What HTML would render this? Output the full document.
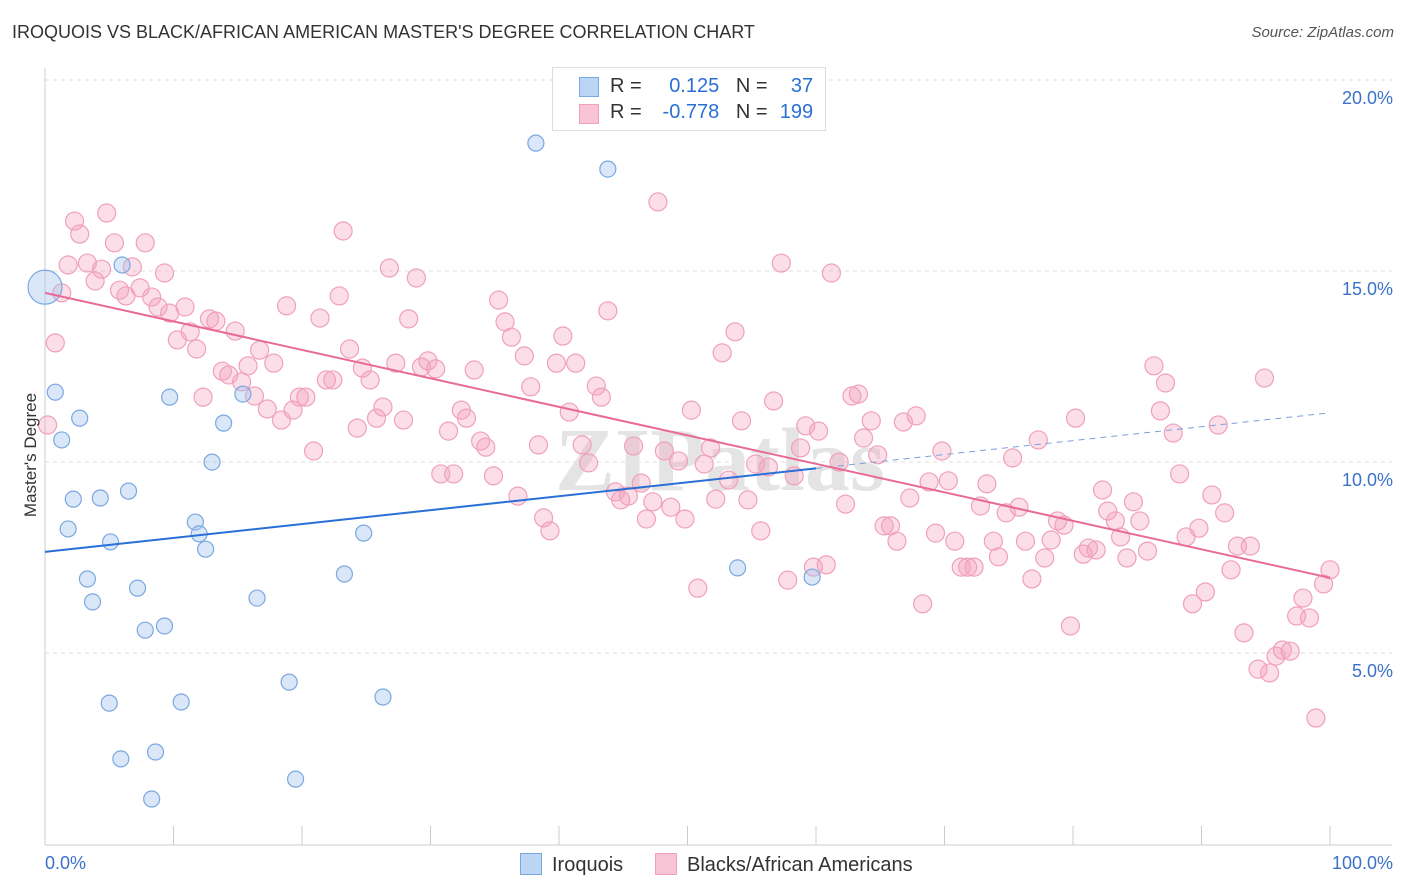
<!DOCTYPE html>
<html><head><meta charset="utf-8"><style>
body{margin:0;background:#fff;font-family:"Liberation Sans",sans-serif}
#c{position:relative;width:1406px;height:892px;overflow:hidden}
</style></head><body>
<div id="c">
<div style="position:absolute;left:12px;top:22px;font-size:18px;color:#333">IROQUOIS VS BLACK/AFRICAN AMERICAN MASTER'S DEGREE CORRELATION CHART</div>
<div style="position:absolute;right:12px;top:24px;font-size:15px;color:#555;font-style:italic">Source: ZipAtlas.com</div>
<svg id="s" width="1406" height="892" style="position:absolute;left:0;top:0"></svg>
</div>
<script>
const blueX=[0,0.8,1.3,2.7,1.8,2.2,4.3,5.1,6.0,6.5,3.3,3.7,7.2,7.8,9.3,9.7,11.7,12.0,12.5,13.0,13.9,15.4,16.5,19.0,19.5,23.3,24.8,26.3,5.0,5.9,8.6,8.3,10.6,38.2,43.8,53.9,59.7];
const blueY=[14.63,11.88,10.63,11.20,8.30,9.08,9.11,7.96,15.21,9.29,6.99,6.39,6.75,5.65,5.76,11.75,8.48,8.17,7.77,10.05,11.07,11.83,6.49,4.29,1.75,7.12,8.19,3.90,3.74,2.28,2.46,1.23,3.77,18.40,17.72,7.28,7.04];
const pinkX=[0.2,0.8,1.3,1.8,2.3,2.7,3.3,3.9,4.4,4.8,5.4,5.8,6.3,6.8,7.4,7.8,8.3,8.8,9.3,9.7,10.3,10.9,11.3,11.8,12.3,12.8,13.3,13.8,14.3,14.8,15.3,15.8,16.3,16.7,17.3,17.8,18.4,18.8,19.3,19.8,20.3,20.9,21.4,21.9,22.4,22.9,23.2,23.7,24.3,24.7,25.3,25.8,26.3,26.8,27.3,27.9,28.3,28.9,29.3,29.8,30.4,30.8,31.4,31.8,32.4,32.8,33.4,33.9,34.3,34.9,35.3,35.8,36.3,36.8,37.3,37.8,38.4,38.8,39.3,39.8,40.3,40.8,41.3,41.8,42.3,42.9,43.3,43.8,44.4,44.8,45.4,45.8,46.4,46.8,47.3,47.7,48.2,48.7,49.3,49.8,50.3,50.8,51.3,51.8,52.2,52.7,53.2,53.7,54.2,54.7,55.3,55.7,56.3,56.7,57.3,57.8,58.3,58.8,59.2,59.8,60.2,60.8,61.2,61.8,62.3,62.8,63.3,63.7,64.3,64.8,65.3,65.8,66.3,66.8,67.3,67.8,68.3,68.8,69.3,69.8,70.3,70.8,71.3,71.8,72.3,72.8,73.3,73.8,74.2,74.8,75.3,75.8,76.3,76.8,77.3,77.8,78.3,78.8,79.3,79.8,80.2,80.8,81.2,81.8,82.3,82.7,83.3,83.7,84.2,84.7,85.2,85.8,86.3,86.8,87.2,87.8,88.3,88.8,89.3,89.8,90.3,90.8,91.3,91.8,92.3,92.8,93.3,93.8,94.4,94.9,95.3,95.8,96.3,96.9,97.4,97.9,98.4,98.9,99.5,100];
const pinkY=[11.02,13.17,14.48,15.21,16.36,16.02,15.26,14.79,15.10,16.57,15.79,14.55,14.40,15.16,14.61,15.79,14.37,14.11,15.00,13.95,13.25,14.11,13.46,13.01,11.75,13.80,13.74,12.43,12.33,13.48,12.15,12.57,11.78,12.98,11.44,12.64,11.15,14.14,11.41,11.75,11.75,10.34,13.82,12.20,12.20,14.40,16.10,13.01,10.94,12.51,12.20,11.20,11.49,15.13,12.64,11.15,13.80,14.87,12.54,12.70,12.49,9.74,10.86,9.74,11.41,11.20,12.46,10.60,10.44,9.69,14.29,13.72,13.32,9.16,12.83,12.02,10.50,8.59,8.25,12.64,13.35,11.36,12.64,10.50,10.03,12.04,11.75,14.01,9.27,9.06,9.16,10.47,9.50,8.56,9.01,16.86,10.34,8.87,10.08,8.56,11.41,6.75,10.00,10.42,9.08,12.91,9.58,13.46,11.13,9.06,10.00,8.25,9.92,11.65,15.26,6.96,9.69,10.42,11.00,7.30,10.86,7.36,15.00,10.05,8.95,11.78,11.83,10.68,11.13,10.24,8.38,8.38,7.98,11.10,9.11,11.26,6.34,9.53,8.19,10.34,9.56,7.98,7.30,7.30,7.30,8.90,9.48,7.98,7.57,8.72,10.16,8.87,7.98,6.99,10.63,7.54,8.01,8.51,8.40,5.76,11.20,7.64,7.80,7.75,9.32,8.77,8.51,8.09,7.54,9.01,8.51,7.72,12.57,11.39,12.12,10.81,9.74,8.09,6.34,8.32,6.65,9.19,11.02,8.72,7.23,7.85,5.58,7.85,4.63,12.25,4.53,4.97,5.13,5.10,6.02,6.49,5.97,3.35,6.86,7.23];
const yTicks=[5,10,15,20];
const yTickLabels=["5.0%","10.0%","15.0%","20.0%"];
const blueTrend=[7.70,11.34];
const pinkTrend=[14.48,7.02];

const NS="http://www.w3.org/2000/svg";
const svg=document.getElementById('s');
const X=v=>45+v*12.85;
const Y=v=>655-(v-5)*38.2;
function mk(t,a){const e=document.createElementNS(NS,t);for(const k in a)e.setAttribute(k,a[k]);svg.appendChild(e);return e;}

yTicks.forEach((t,i)=>{
 const g=mk('line',{x1:45,x2:1392,y1:Y(t)-2,y2:Y(t)-2,stroke:'#ddd','stroke-dasharray':'4,4'});
 
 
 const tx=mk('text',{x:1393,y:Y(t)+22,'text-anchor':'end','font-size':18,fill:'#3a72c8','font-family':'Liberation Sans'});
 tx.textContent=yTickLabels[i];
 
 
});
const ax=mk('line',{x1:45,x2:45,y1:68,y2:845,stroke:'#ccc'});


const bx=mk('line',{x1:45,x2:1392,y1:845,y2:845,stroke:'#ccc'});


for(let i=0;i<=10;i++){
 const t=mk('line',{x1:X(i*10),x2:X(i*10),y1:826,y2:845,stroke:'#ccc'});
 
 
}
const wm=mk('text',{x:720,y:490,'text-anchor':'middle','font-size':90,fill:'#e4e4e4','font-family':'Liberation Serif','font-weight':'bold'});
wm.textContent='ZIPatlas';



pinkX.forEach((x,i)=>{
 const c=mk('circle',{cx:X(x),cy:Y(pinkY[i]),r:9,fill:'rgba(244,160,190,0.35)',stroke:'#f0a0bc','stroke-width':1.2});
 
 
});
blueX.forEach((x,i)=>{
 const c=mk('circle',{cx:X(x),cy:Y(blueY[i]),r:i==0?17:8,fill:'rgba(160,195,240,0.4)',stroke:'#7aa8e0','stroke-width':1.2});
 
 
});
const by=v=>blueTrend[0]+(blueTrend[1]-blueTrend[0])*v/100;
const bl=mk('line',{x1:X(0),y1:Y(by(0)),x2:X(60),y2:Y(by(60)),stroke:'#2a6fd6','stroke-width':2});


const bd=mk('line',{x1:X(60),y1:Y(by(60)),x2:X(100),y2:Y(by(100)),stroke:'#7aa0dc','stroke-width':1,'stroke-dasharray':'6,5'});


const pl=mk('line',{x1:X(0),y1:Y(pinkTrend[0]),x2:X(100),y2:Y(pinkTrend[1]),stroke:'#e86a98','stroke-width':2});


</script>
<div style="position:absolute;left:552px;top:67px;width:272px;height:62px;border:1px solid #ddd;background:#fff;font-size:20px;color:#333">
 <div style="position:absolute;left:26px;top:9px;width:18px;height:18px;background:#bcd5f5;border:1px solid #7aa8e0"></div>
 <div style="position:absolute;left:57px;top:7px">R = <span style="color:#2a6fd6;display:inline-block;width:72px;text-align:right">0.125</span>&nbsp;&nbsp;&nbsp;N = <span style="color:#2a6fd6;display:inline-block;width:40px;text-align:right">37</span></div>
 <div style="position:absolute;left:26px;top:36px;width:18px;height:18px;background:#f9c4d5;border:1px solid #f0a0bc"></div>
 <div style="position:absolute;left:57px;top:33px">R = <span style="color:#2a6fd6;display:inline-block;width:72px;text-align:right">-0.778</span>&nbsp;&nbsp;&nbsp;N = <span style="color:#2a6fd6;display:inline-block;width:40px;text-align:right">199</span></div>
</div>
<div style="position:absolute;left:-34px;top:445px;transform:rotate(-90deg);font-size:17px;color:#333;width:130px;text-align:center">Master's Degree</div>
<div style="position:absolute;left:45px;top:853px;font-size:18px;color:#3a72c8">0.0%</div>
<div style="position:absolute;right:13px;top:853px;font-size:18px;color:#3a72c8">100.0%</div>
<div style="position:absolute;left:520px;top:853px;font-size:20px;color:#333"><span style="display:inline-block;width:20px;height:20px;background:#bcd5f5;border:1px solid #7aa8e0;vertical-align:-4px;margin-right:10px"></span>Iroquois</div>
<div style="position:absolute;left:655px;top:853px;font-size:20px;color:#333"><span style="display:inline-block;width:20px;height:20px;background:#f9c4d5;border:1px solid #f0a0bc;vertical-align:-4px;margin-right:10px"></span>Blacks/African Americans</div>
</body></html>
